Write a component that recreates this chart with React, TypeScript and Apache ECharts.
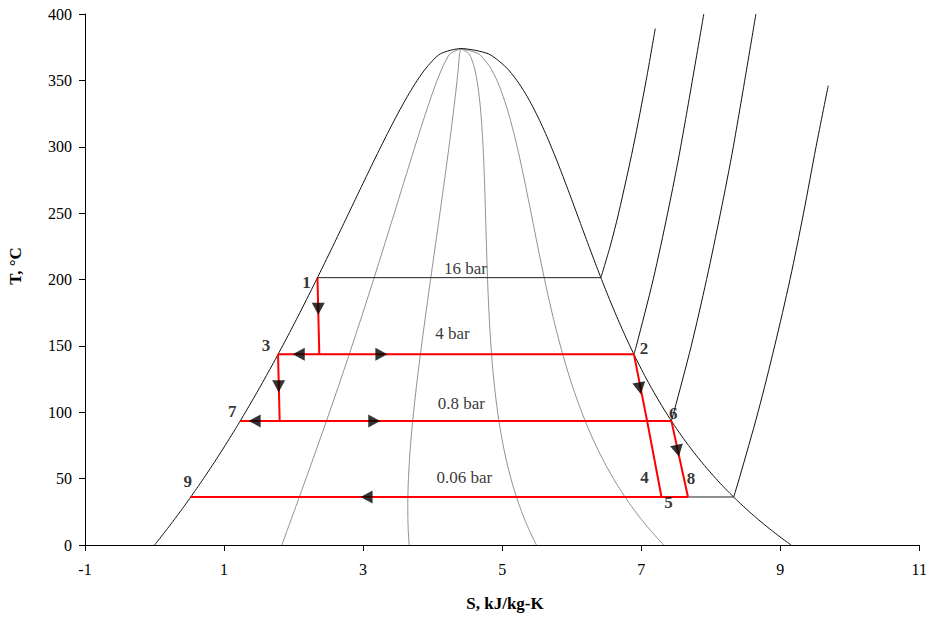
import React, { useEffect, useRef } from "react";
import * as echarts from "echarts";

// Saturated water: temperature (°C) with liquid / vapour entropy (kJ/kg-K)
const satT = [0.01, 5, 10, 15, 20, 25, 30, 35, 40, 45, 50, 60, 70, 80, 90, 100, 110, 120, 130, 140, 150, 160, 170, 180, 190, 200, 210, 220, 230, 240, 250, 260, 270, 280, 290, 300, 310, 320, 330, 340, 350, 360, 370, 373.95];
const satSf = [0.0, 0.0763, 0.1511, 0.2245, 0.2965, 0.3672, 0.4368, 0.5051, 0.5724, 0.6386, 0.7038, 0.8313, 0.9551, 1.0756, 1.1929, 1.3072, 1.4188, 1.5279, 1.6346, 1.7392, 1.8418, 1.9426, 2.0417, 2.1392, 2.2355, 2.3305, 2.4245, 2.5177, 2.6101, 2.702, 2.7935, 2.8849, 2.9765, 3.0685, 3.1612, 3.2552, 3.351, 3.4494, 3.5518, 3.6601, 3.7784, 3.9167, 4.1112, 4.407];
const satSg = [9.1556, 9.0249, 8.8999, 8.7803, 8.6661, 8.5567, 8.452, 8.3517, 8.2555, 8.1633, 8.0748, 7.9081, 7.754, 7.6111, 7.4781, 7.3541, 7.2381, 7.1291, 7.0264, 6.9293, 6.8371, 6.7491, 6.665, 6.584, 6.5059, 6.4302, 6.3563, 6.284, 6.2128, 6.1423, 6.0721, 6.0016, 5.9304, 5.8579, 5.7834, 5.7059, 5.6244, 5.5372, 5.4422, 5.3356, 5.211, 5.0536, 4.8012, 4.407];

// Constant-quality lines inside the dome
const qualities = [0.2, 0.4, 0.6, 0.8];

// Isobars: saturation temperature and the two saturation entropies
const isobarNames = ["16 bar", "4 bar", "0.8 bar", "0.06 bar"];
const isobarTsat = [201.4, 143.6, 93.5, 36.16];
const isobarSf = [2.3436, 1.7765, 1.2329, 0.521];
const isobarSg = [6.42, 6.8955, 7.4339, 8.3304];

// Superheated branches of the isobars
const sh16T = [201.4, 225, 250, 300, 350, 389];
const sh16S = [6.42, 6.5537, 6.6753, 6.8863, 7.0713, 7.202];
const sh4T = [143.6, 150, 200, 250, 300, 400];
const sh4S = [6.8955, 6.9306, 7.1723, 7.3804, 7.5682, 7.9003];
const sh08T = [93.5, 100, 150, 200, 250, 300, 400];
const sh08S = [7.4339, 7.47, 7.72, 7.94, 8.14, 8.325, 8.65];
const sh006T = [36.16, 50, 100, 150, 200, 250, 300, 346];
const sh006S = [8.3304, 8.41, 8.68, 8.92, 9.14, 9.335, 9.515, 9.69];

// Cycle processes (entropy, temperature)
const flashS = [2.3436, 2.37];
const flashT = [201.4, 143.6];
const hpLineS = [1.7765, 6.8955];
const hpLineT = [143.6, 143.6];
const liquidDropS = [1.7765, 1.8];
const liquidDropT = [143.6, 93.5];
const lpLineS = [1.2329, 7.4339];
const lpLineT = [93.5, 93.5];
const condLineS = [0.521, 7.673];
const condLineT = [36.16, 36.16];
const hpTurbineS = [6.8955, 7.085, 7.292];
const hpTurbineT = [143.6, 93.5, 36.16];
const lpTurbineS = [7.4339, 7.673];
const lpTurbineT = [93.5, 36.16];

// Flow-direction arrows along the processes
const arrowS = [2.355, 2.074, 3.263, 1.785, 1.44, 3.16, 3.05, 6.98, 7.525];
const arrowT = [178, 143.6, 143.6, 119.5, 93.5, 93.5, 36.16, 118, 71];
const arrowRot = [180, 90, -90, 180, 90, -90, 90, 190, 192];

// State point numbers
const stateNames = ["1", "2", "3", "4", "5", "6", "7", "8", "9"];
const stateS = [2.3436, 6.8955, 1.7765, 7.292, 7.292, 7.4339, 1.2329, 7.673, 0.521];
const stateT = [201.4, 143.6, 143.6, 36.16, 36.16, 93.5, 93.5, 36.16, 36.16];

const FONT = '"Liberation Serif", "Times New Roman", serif';
const stateLabelOffsets = [[-11, 5], [10, -6], [-12, -9], [-17, -19], [7, 6], [2, -7], [-8, -9], [3, -18], [-3, -15]];
const isobarLabelS = 4.4;
const isobarLabelOffsets = [[5, -9], [-8, -21], [1, -17], [4, -19]];

const zip = (s: number[], t: number[]) => s.map((v, i) => [v, t[i]]);

export default function App() {
  const ref = useRef<HTMLDivElement>(null);

  useEffect(() => {
    if (!ref.current) return;
    const chart = echarts.init(ref.current, undefined, { renderer: "svg" });

    const lineBase = { type: "line", symbol: "none", silent: true, animation: false };

    const qualitySeries = qualities.map((q) => ({
      ...lineBase,
      data: satT.map((t, i) => [satSf[i] + q * (satSg[i] - satSf[i]), t]),
      smooth: 0.2,
      lineStyle: { color: "#8f8f8f", width: 1 },
      z: 1,
    }));

    const domeSeries = {
      ...lineBase,
      data: zip(satSf, satT).concat(zip(satSg, satT).reverse()),
      smooth: 0.25,
      lineStyle: { color: "#111", width: 1 },
      z: 2,
    };

    const isobarFlat = isobarTsat.map((t, i) => ({
      ...lineBase,
      data: [[isobarSf[i], t], [isobarSg[i], t]],
      lineStyle: { color: "#222", width: 1 },
      z: 2,
    }));

    const superheated = [
      [sh16S, sh16T],
      [sh4S, sh4T],
      [sh08S, sh08T],
      [sh006S, sh006T],
    ].map(([s, t]) => ({
      ...lineBase,
      data: zip(s, t),
      smooth: 0.3,
      lineStyle: { color: "#111", width: 1 },
      z: 2,
    }));

    const cycle = [
      [flashS, flashT],
      [hpLineS, hpLineT],
      [liquidDropS, liquidDropT],
      [lpLineS, lpLineT],
      [condLineS, condLineT],
      [hpTurbineS, hpTurbineT],
      [lpTurbineS, lpTurbineT],
    ].map(([s, t]) => ({
      ...lineBase,
      data: zip(s, t),
      lineStyle: { color: "#ff0000", width: 2 },
      z: 3,
    }));

    const arrows = {
      type: "scatter",
      silent: true,
      symbol: "triangle",
      symbolSize: [13, 12],
      itemStyle: { color: "#000" },
      data: arrowS.map((s, i) => ({ value: [s, arrowT[i]], symbolRotate: arrowRot[i] })),
      z: 5,
    };

    const stateLabels = {
      type: "scatter",
      silent: true,
      symbolSize: 0,
      itemStyle: { color: "transparent" },
      label: {
        show: true,
        position: "inside",
        formatter: "{b}",
        fontFamily: FONT,
        fontWeight: "bold",
        fontSize: 17,
        color: "#000",
      },
      data: stateNames.map((n, i) => ({
        name: n,
        value: [stateS[i], stateT[i]],
        label: { offset: stateLabelOffsets[i] },
      })),
      z: 6,
    };

    const isobarLabels = {
      type: "scatter",
      silent: true,
      symbolSize: 0,
      itemStyle: { color: "transparent" },
      label: {
        show: true,
        position: "inside",
        formatter: "{b}",
        fontFamily: FONT,
        fontSize: 17,
        color: "#000",
      },
      data: isobarNames.map((n, i) => ({
        name: n,
        value: [isobarLabelS, isobarTsat[i]],
        label: { offset: isobarLabelOffsets[i] },
      })),
      z: 6,
    };

    chart.setOption({
      animation: false,
      backgroundColor: "#fff",
      grid: { left: 85, right: 9, top: 14, bottom: 72, containLabel: false },
      xAxis: {
        type: "value",
        min: -1,
        max: 11,
        interval: 2,
        axisLine: { show: true, onZero: false, lineStyle: { color: "#000", width: 1 } },
        axisTick: { show: true, length: 6, lineStyle: { color: "#000" } },
        axisLabel: { margin: 16, fontFamily: FONT, fontSize: 16, color: "#000" },
        splitLine: { show: false },
      },
      yAxis: {
        type: "value",
        min: 0,
        max: 400,
        interval: 50,
        axisLine: { show: true, onZero: false, lineStyle: { color: "#000", width: 1 } },
        axisTick: { show: true, length: 6, lineStyle: { color: "#000" } },
        axisLabel: { margin: 13, fontFamily: FONT, fontSize: 16, color: "#000" },
        splitLine: { show: false },
      },
      graphic: [
        {
          type: "text",
          x: 15,
          y: 266,
          rotation: Math.PI / 2,
          style: {
            text: "T, °C",
            font: `bold 17px ${FONT}`,
            textAlign: "center",
            textVerticalAlign: "middle",
            align: "center",
            verticalAlign: "middle",
            fill: "#000",
          },
        },
        {
          type: "text",
          x: 505,
          y: 603,
          style: {
            text: "S, kJ/kg-K",
            font: `bold 17px ${FONT}`,
            textAlign: "center",
            textVerticalAlign: "middle",
            align: "center",
            verticalAlign: "middle",
            fill: "#000",
          },
        },
      ],
      series: [
        ...qualitySeries,
        domeSeries,
        ...isobarFlat,
        ...superheated,
        ...cycle,
        arrows,
        stateLabels,
        isobarLabels,
      ],
    });

    return () => chart.dispose();
  }, []);

  return (
    <div
      ref={ref}
      style={{ position: "absolute", left: 0, top: 0, width: 930, height: 617, background: "#fff" }}
    />
  );
}
